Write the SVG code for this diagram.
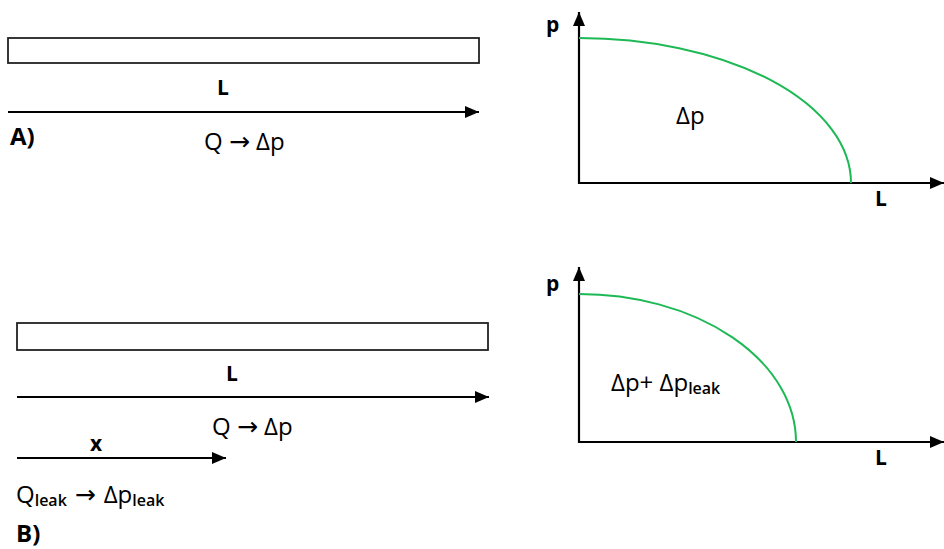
<svg xmlns="http://www.w3.org/2000/svg" width="944" height="549" viewBox="0 0 944 549">
<defs>
<marker id="ah" markerWidth="14" markerHeight="12" refX="14" refY="6" orient="auto" markerUnits="userSpaceOnUse">
<path d="M0,0 L14,6 L0,12 Z" fill="#000"/>
</marker>
<style>
.t{font-family:"Open Sans","Liberation Sans",sans-serif;fill:#000;}
.b{font-weight:700;}
.ar{font-family:"DejaVu Sans",sans-serif;font-size:25px;}
.sub{font-size:16px;font-weight:600;}
.pipe{fill:#fff;stroke:#222;stroke-width:1.8;}
.ln{stroke:#000;stroke-width:2;fill:none;}
.ax{stroke:#000;stroke-width:2.2;fill:none;}
.cv{stroke:#1db954;stroke-width:2;fill:none;}
</style>
</defs>
<rect width="944" height="549" fill="#fff"/>
<g id="A-pipe"><rect class="pipe" x="8" y="38" width="471" height="25"/></g>
<g id="B-pipe"><rect class="pipe" x="17" y="323" width="471" height="27"/></g>
<g id="connectors">
<line class="ln" x1="8" y1="112" x2="479" y2="112" marker-end="url(#ah)"/>
<line class="ln" x1="17" y1="397" x2="489" y2="397" marker-end="url(#ah)"/>
<line class="ln" x1="17" y1="458" x2="226" y2="458" marker-end="url(#ah)"/>
<line class="ax" x1="579" y1="184" x2="579" y2="12" marker-end="url(#ah)"/>
<line class="ax" x1="578" y1="183" x2="944" y2="183" marker-end="url(#ah)"/>
<line class="ax" x1="579" y1="443" x2="579" y2="267" marker-end="url(#ah)"/>
<line class="ax" x1="578" y1="442" x2="944" y2="442" marker-end="url(#ah)"/>
<path class="cv" d="M579,38 A272,145 0 0 1 851,183"/>
<path class="cv" d="M579,294 A217,148 0 0 1 796,442"/>
</g>
<g id="A-labels">
<text class="t b" x="223" y="95" font-size="21" text-anchor="middle">L</text>
<text class="t" x="204" y="150" font-size="24">Q <tspan class="ar">→</tspan> Δp</text>
<text class="t b" x="10" y="145" font-size="24">A)</text>
</g>
<g id="A-graph-labels">
<text class="t b" x="546" y="32" font-size="21">p</text>
<text class="t" x="676" y="124" font-size="24">Δp</text>
<text class="t b" x="875" y="206" font-size="21">L</text>
</g>
<g id="B-labels">
<text class="t b" x="232" y="381" font-size="21" text-anchor="middle">L</text>
<text class="t" x="212" y="435" font-size="24">Q <tspan class="ar">→</tspan> Δp</text>
<text class="t b" x="96" y="451" font-size="21" text-anchor="middle">x</text>
<text class="t" x="16" y="503" font-size="24">Q<tspan class="sub" dy="3">leak</tspan><tspan class="ar" dy="-3"> → </tspan>Δp<tspan class="sub" dy="3">leak</tspan></text>
<text class="t b" x="16" y="542" font-size="24">B)</text>
</g>
<g id="B-graph-labels">
<text class="t b" x="546" y="291" font-size="21">p</text>
<text class="t" x="611" y="391" font-size="24">Δp+ Δp<tspan class="sub" dy="3">leak</tspan></text>
<text class="t b" x="875" y="465" font-size="21">L</text>
</g>
</svg>
